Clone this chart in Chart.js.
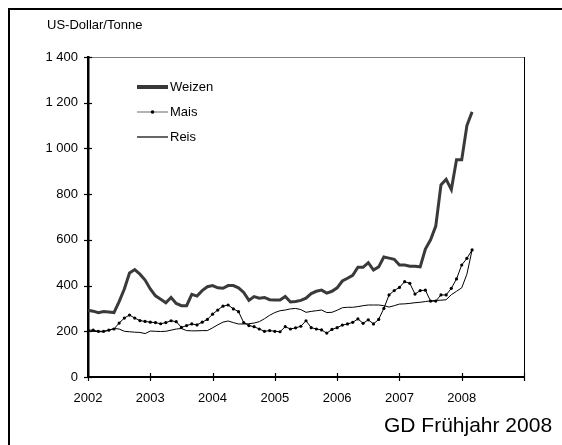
<!doctype html>
<html lang="de">
<head>
<meta charset="utf-8">
<title>Weizen, Mais, Reis</title>
<script src="https://cdn.jsdelivr.net/npm/chart.js@4.4.1/dist/chart.umd.min.js"></script>
<style>
  body { margin: 0; background: #fff; font-family: "Liberation Sans", Arial, sans-serif; }
  #wrap { position: relative; width: 562px; height: 445px; overflow: hidden; }
  #frame { position: absolute; left: 8px; top: 8px; width: 700px; height: 600px;
           border-left: 2px solid #000; border-top: 2px solid #000; }
  #unit { position: absolute; left: 47px; top: 17px; font-size: 13px; color: #000; }
  #source { position: absolute; left: 384px; top: 413px; font-size: 21px; color: #000; }
  canvas { position: absolute; left: 0; top: 0; }
</style>
</head>
<body>
<div id="wrap">
  <div id="frame"></div>
  <canvas id="lineChart" width="562" height="445"></canvas>
  <div id="unit">US-Dollar/Tonne</div>
  <div id="source">GD Frühjahr 2008</div>
</div>
<script>
// monthly prices, Jan 2002 .. Mar 2008
var startYear = 2002;
var seriesNames = ["Weizen", "Mais", "Reis"];

var weizen = [292, 288, 281, 286, 284, 282, 330, 385, 455, 470, 450, 424,
              385, 355, 340, 325, 348, 322, 312, 312, 362, 354, 378, 395,
              400, 390, 388, 400, 400, 390, 370, 335, 352, 345, 348, 338,
              337, 337, 352, 328, 330, 335, 345, 365, 375, 380, 367, 375,
              390, 420, 432, 445, 480, 480, 500, 468, 482, 525, 520, 515,
              490, 490, 485, 485, 482, 560, 600, 660, 840, 865, 820, 950,
              950, 1100, 1160];

var mais = [205, 205, 200, 200, 205, 210, 236, 258, 271, 258, 247, 243,
            240, 238, 233, 238, 246, 242, 217, 225, 232, 228, 240, 252,
            275, 293, 310, 315, 298, 286, 238, 225, 220, 210, 200, 203,
            200, 198, 220, 210, 215, 222, 246, 216, 210, 206, 192, 208,
            216, 227, 232, 239, 254, 235, 250, 232, 252, 300, 359, 378,
            392, 417, 410, 363, 378, 380, 332, 332, 359, 359, 388, 429,
            490, 519, 556];

var reis = [200, 200, 198, 198, 205, 212, 210, 200, 198, 196, 195, 190,
            201, 200, 199, 200, 205, 210, 212, 203, 202, 202, 203, 203,
            215, 228, 240, 245, 238, 232, 232, 233, 236, 242, 255, 270,
            282, 290, 293, 298, 300, 295, 283, 287, 290, 293, 282, 283,
            292, 303, 305, 305, 308, 312, 315, 315, 315, 312, 306, 312,
            319, 320, 322, 325, 327, 330, 333, 335, 336, 338, 360, 375,
            390, 450, 556];

var yearTicks = [2002, 2003, 2004, 2005, 2006, 2007, 2008];

function toPoints(arr) {
  var out = [];
  for (var i = 0; i < arr.length; i++) {
    out.push({ x: startYear + i / 12, y: arr[i] });
  }
  return out;
}

function fmt(v) {
  // German style thousands separator with a space
  var s = String(v);
  if (s.length > 3) s = s.slice(0, s.length - 3) + " " + s.slice(-3);
  return s;
}

// crossing tick marks, plot frame and the legend inside the plot
const innerLegend = {
  id: "innerLegend",
  afterDraw: function(chart) {
    var ctx = chart.ctx;
    var a = chart.chartArea;
    var xs = chart.scales.x, ys = chart.scales.y;
    ctx.save();
    ctx.strokeStyle = "#808080";
    ctx.lineWidth = 1;
    ctx.beginPath();
    ctx.moveTo(a.left, a.top + 0.5);
    ctx.lineTo(a.right, a.top + 0.5);
    ctx.stroke();
    ctx.strokeStyle = "#000";
    ctx.beginPath();
    ctx.moveTo(a.right + 0.5, a.top);
    ctx.lineTo(a.right + 0.5, a.bottom);
    ctx.stroke();

    ctx.lineWidth = 1.2;
    ys.ticks.forEach(function(t) {
      var py = Math.round(ys.getPixelForValue(t.value)) + 0.5;
      ctx.beginPath();
      ctx.moveTo(a.left - 4, py);
      ctx.lineTo(a.left + 4, py);
      ctx.stroke();
    });
    xs.ticks.forEach(function(t) {
      var px = Math.round(xs.getPixelForValue(t.value)) + 0.5;
      ctx.beginPath();
      ctx.moveTo(px, a.bottom - 4);
      ctx.lineTo(px, a.bottom + 4);
      ctx.stroke();
    });

    var rows = [87, 112, 137];
    var legendCols = ["#383838", "#808080", "#000"];
    var legendW = [4, 1.2, 1.2];
    ctx.font = "13px 'Liberation Sans', Arial, sans-serif";
    ctx.textBaseline = "middle";
    chart.data.datasets.forEach(function(ds, i) {
      var y = rows[i];
      ctx.strokeStyle = legendCols[i];
      ctx.lineWidth = legendW[i];
      ctx.beginPath();
      ctx.moveTo(137, y);
      ctx.lineTo(168, y);
      ctx.stroke();
      if (ds.pointRadius > 0) {
        ctx.beginPath();
        ctx.arc(152.5, y, 1.8, 0, Math.PI * 2);
        ctx.fillStyle = "#000";
        ctx.fill();
      }
      ctx.fillStyle = "#000";
      ctx.fillText(ds.label, 170, y + 0.5);
    });
    ctx.restore();
  }
};

const CHART = document.getElementById("lineChart");
let lineChart = new Chart(CHART, {
  type: "line",
  data: {
    datasets: [{
      label: seriesNames[0],
      data: toPoints(weizen),
      borderColor: "#3a3a3a",
      borderWidth: 3,
      pointRadius: 0,
      tension: 0,
      order: 1
    }, {
      label: seriesNames[1],
      data: toPoints(mais),
      borderColor: "#000",
      backgroundColor: "#000",
      borderWidth: 1,
      pointRadius: 1.6,
      pointBorderWidth: 0,
      tension: 0,
      order: 2
    }, {
      label: seriesNames[2],
      data: toPoints(reis),
      borderColor: "#000",
      borderWidth: 1,
      pointRadius: 0,
      tension: 0,
      order: 3
    }]
  },
  options: {
    animation: false,
    responsive: false,
    layout: { padding: { top: 57, right: 38, left: 0, bottom: 0 } },
    plugins: { legend: { display: false }, tooltip: { enabled: false } },
    scales: {
      x: {
        type: "linear",
        min: 2002,
        max: 2009,
        afterBuildTicks: function(scale) {
          scale.ticks = yearTicks.concat([2009]).map(function(v) { return { value: v }; });
        },
        afterFit: function(scale) { scale.height = 68; },
        grid: { display: false, drawTicks: false },
        border: { display: true, color: "#000", width: 2 },
        ticks: {
          color: "#000",
          padding: 14,
          maxRotation: 0,
          font: { family: "'Liberation Sans', Arial, sans-serif", size: 13 },
          callback: function(v) { return yearTicks.indexOf(v) >= 0 ? String(v) : ""; }
        }
      },
      y: {
        min: 0,
        max: 1400,
        afterFit: function(scale) { scale.width = 88; },
        grid: { display: false, drawTicks: false },
        border: { display: true, color: "#000", width: 2.5 },
        ticks: {
          stepSize: 200,
          color: "#000",
          padding: 10,
          font: { family: "'Liberation Sans', Arial, sans-serif", size: 13 },
          callback: function(v) { return fmt(v); }
        }
      }
    }
  },
  plugins: [innerLegend]
});
</script>
</body>
</html>
